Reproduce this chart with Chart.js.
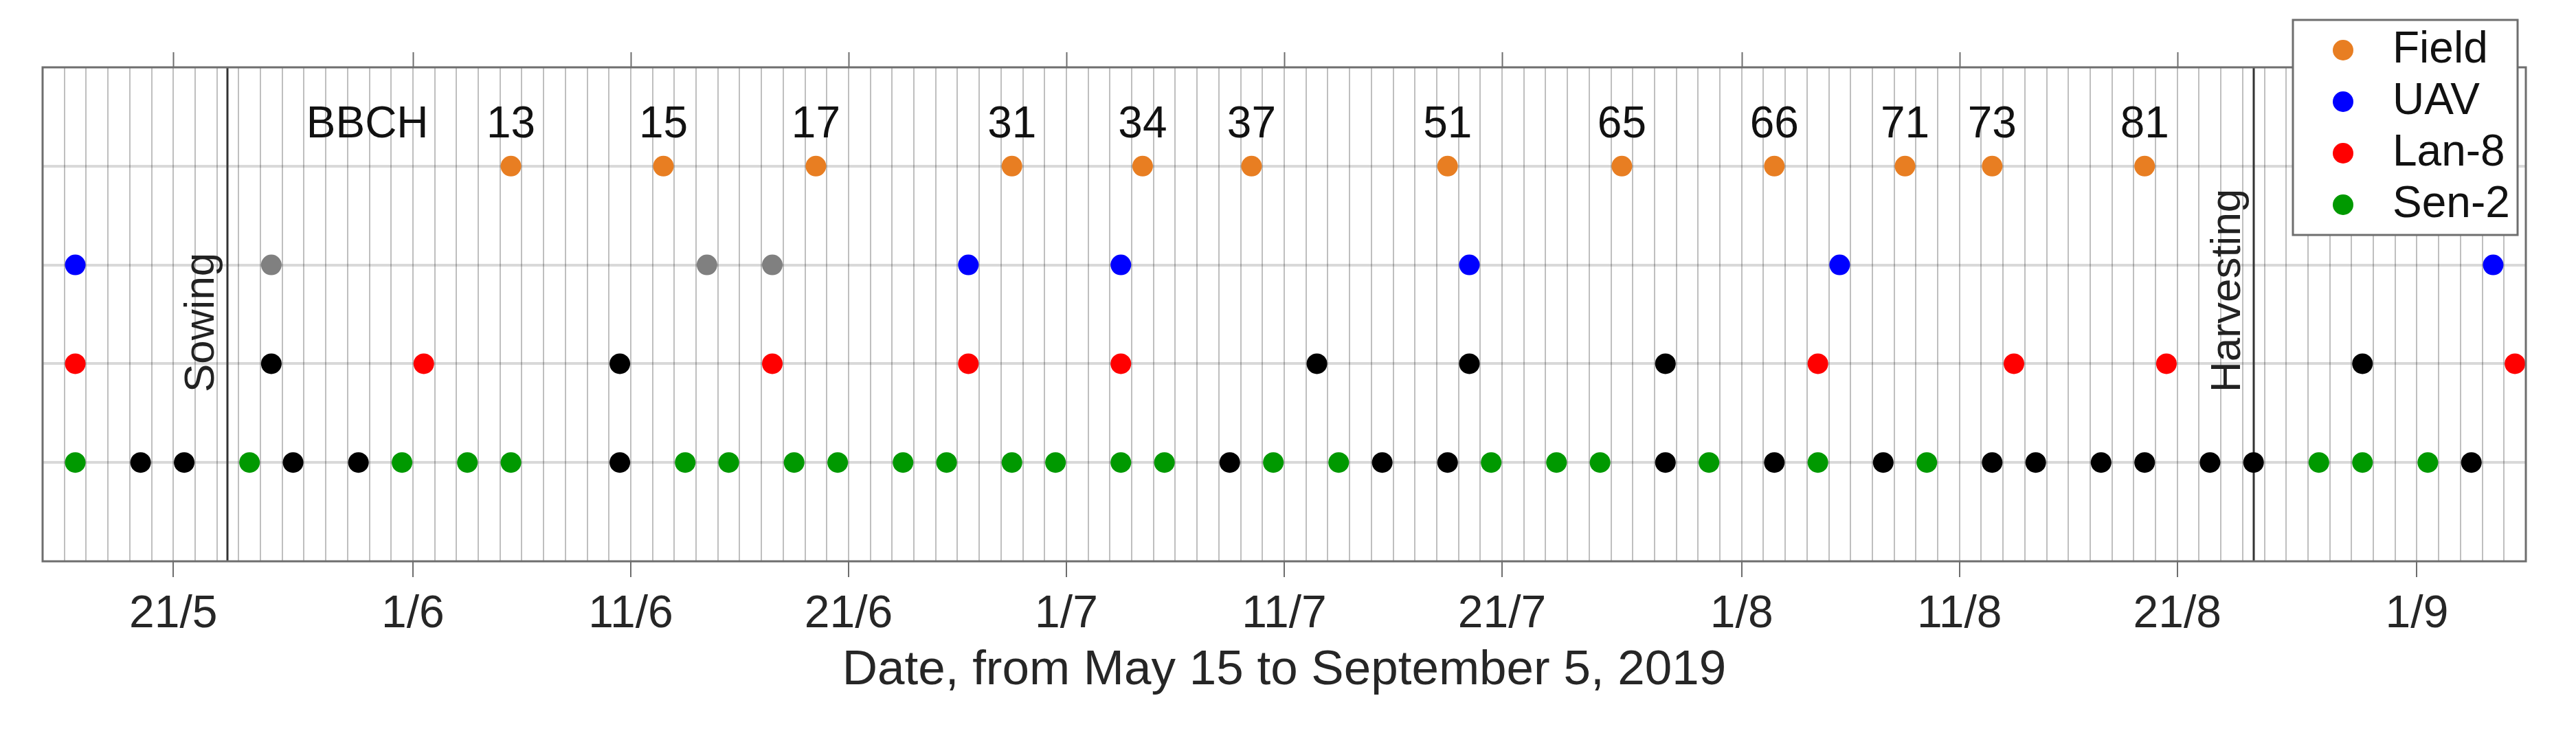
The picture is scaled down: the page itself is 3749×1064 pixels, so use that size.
<!DOCTYPE html>
<html>
<head>
<meta charset="utf-8">
<script src="https://cdn.jsdelivr.net/npm/chart.js"></script>
<style>
  html, body { margin: 0; padding: 0; background: #fff; }
  #wrap { width: 3749px; height: 1064px; }
</style>
</head>
<body>
<div id="wrap"><canvas id="timeline"></canvas></div>
<script>
// season covered by the axis (inclusive)
const startDate = '2019-05-15';
const endDate = '2019-09-05';

// field visits and the BBCH stage noted on each
const fieldDates = ['2019-06-05', '2019-06-12', '2019-06-19', '2019-06-28', '2019-07-04', '2019-07-09',
                    '2019-07-18', '2019-07-26', '2019-08-02', '2019-08-08', '2019-08-12', '2019-08-19'];
const fieldBBCH = ['13', '15', '17', '31', '34', '37', '51', '65', '66', '71', '73', '81'];

// UAV flights (grey = flight not used)
const uavDates = ['2019-05-16', '2019-06-26', '2019-07-03', '2019-07-19', '2019-08-05', '2019-09-04'];
const uavGreyDates = ['2019-05-25', '2019-06-14', '2019-06-17'];

// Landsat-8 passes (black = cloudy)
const lan8Dates = ['2019-05-16', '2019-06-01', '2019-06-17', '2019-06-26', '2019-07-03',
                   '2019-08-04', '2019-08-13', '2019-08-20', '2019-09-05'];
const lan8Cloudy = ['2019-05-25', '2019-06-10', '2019-07-12', '2019-07-19', '2019-07-28', '2019-08-29'];

// Sentinel-2 passes (black = cloudy)
const sen2Dates = ['2019-05-16', '2019-05-24', '2019-05-31', '2019-06-03', '2019-06-05', '2019-06-13',
                   '2019-06-15', '2019-06-18', '2019-06-20', '2019-06-23', '2019-06-25', '2019-06-28',
                   '2019-06-30', '2019-07-03', '2019-07-05', '2019-07-10', '2019-07-13', '2019-07-20',
                   '2019-07-23', '2019-07-25', '2019-07-30', '2019-08-04', '2019-08-09', '2019-08-27',
                   '2019-08-29', '2019-09-01'];
const sen2Cloudy = ['2019-05-19', '2019-05-21', '2019-05-26', '2019-05-29', '2019-06-10', '2019-07-08',
                    '2019-07-15', '2019-07-18', '2019-07-28', '2019-08-02', '2019-08-07', '2019-08-12',
                    '2019-08-14', '2019-08-17', '2019-08-19', '2019-08-22', '2019-08-24', '2019-09-03'];

// labelled axis ticks
const tickDates = ['2019-05-21', '2019-06-01', '2019-06-11', '2019-06-21', '2019-07-01', '2019-07-11',
                   '2019-07-21', '2019-08-01', '2019-08-11', '2019-08-21', '2019-09-01'];
const tickLabels = ['21/5', '1/6', '11/6', '21/6', '1/7', '11/7', '21/7', '1/8', '11/8', '21/8', '1/9'];

// crop events
const eventDates = ['2019-05-23', '2019-08-24'];
const eventLabels = ['Sowing', 'Harvesting'];

const FONT = "'Liberation Sans', Arial, Helvetica, sans-serif";

function dayOf(s) {
  const [y, m, d] = s.split('-').map(Number);
  const [y0, m0, d0] = startDate.split('-').map(Number);
  return (Date.UTC(y, m - 1, d) - Date.UTC(y0, m0 - 1, d0)) / 864e5;
}

// each day is one grid cell, points sit in the middle of it
const toPoints = (dates, row) => dates.map(d => ({ x: dayOf(d) + 0.5, y: row }));

const xMax = dayOf(endDate) + 1;
const majorDays = tickDates.map(dayOf);

function ds(label, dates, row, color, inLegend) {
  return {
    label,
    data: toPoints(dates, row),
    backgroundColor: color,
    pointRadius: 15,
    pointHoverRadius: 15,
    pointBorderWidth: 0,
    inLegend
  };
}

const decorations = {
  id: 'decorations',
  beforeDatasetsDraw(chart) {
    const { ctx, chartArea: a, scales: { x } } = chart;
    ctx.save();
    eventDates.forEach((d, i) => {
      const px = Math.round(x.getPixelForValue(dayOf(d) + 0.5));
      ctx.strokeStyle = '#333';
      ctx.lineWidth = 3;
      ctx.beginPath();
      ctx.moveTo(px, a.top);
      ctx.lineTo(px, a.bottom);
      ctx.stroke();

      ctx.save();
      ctx.translate(px - 20, 571);
      ctx.rotate(-Math.PI / 2);
      ctx.font = '62px ' + FONT;
      ctx.fillStyle = '#222';
      ctx.textAlign = 'left';
      ctx.textBaseline = 'alphabetic';
      ctx.fillText(eventLabels[i], 0, 0);
      ctx.restore();
    });
    ctx.restore();
  },
  afterDatasetsDraw(chart) {
    const { ctx, chartArea: a, scales: { x } } = chart;
    ctx.save();

    // BBCH codes above the field visits
    const pts = chart.getDatasetMeta(0).data;
    ctx.font = '64px ' + FONT;
    ctx.fillStyle = '#111';
    ctx.textBaseline = 'alphabetic';
    ctx.textAlign = 'center';
    pts.forEach((p, i) => ctx.fillText(fieldBBCH[i], p.x, p.y - 42));
    ctx.textAlign = 'right';
    ctx.fillText('BBCH', pts[0].x - 120, pts[0].y - 42);

    // box round the plot and ticks on top
    ctx.strokeStyle = '#6E6E6E';
    ctx.lineWidth = 3;
    ctx.strokeRect(a.left, a.top, a.right - a.left, a.bottom - a.top);
    ctx.lineWidth = 2;
    majorDays.forEach(v => {
      const px = Math.round(x.getPixelForValue(v)) + 0.5;
      ctx.beginPath();
      ctx.moveTo(px, a.top);
      ctx.lineTo(px, a.top - 22);
      ctx.stroke();
    });
    ctx.restore();
  },
  afterDraw(chart) {
    const { ctx, chartArea: a } = chart;
    const items = chart.data.datasets.filter(d => d.inLegend);
    const lx = a.right - 339, ly = 29, lw = 327, lh = 313;
    ctx.save();
    ctx.fillStyle = '#fff';
    ctx.fillRect(lx, ly, lw, lh);
    ctx.strokeStyle = '#6E6E6E';
    ctx.lineWidth = 3;
    ctx.strokeRect(lx, ly, lw, lh);
    ctx.font = '64px ' + FONT;
    ctx.textAlign = 'left';
    ctx.textBaseline = 'middle';
    items.forEach((d, i) => {
      const cy = ly + 44 + i * 75;
      ctx.fillStyle = d.backgroundColor;
      ctx.beginPath();
      ctx.arc(lx + 73, cy, 15, 0, Math.PI * 2);
      ctx.fill();
      ctx.fillStyle = '#111';
      ctx.fillText(d.label, lx + 145, cy);
    });
    ctx.restore();
  }
};

new Chart(document.getElementById('timeline'), {
  type: 'scatter',
  data: {
    datasets: [
      ds('Field', fieldDates, 4, '#E87E22', true),
      ds('UAV', uavDates, 3, '#0000FF', true),
      ds('UAV not used', uavGreyDates, 3, '#808080', false),
      ds('Lan-8', lan8Dates, 2, '#FF0000', true),
      ds('Lan-8 cloudy', lan8Cloudy, 2, '#000000', false),
      ds('Sen-2', sen2Dates, 1, '#009900', true),
      ds('Sen-2 cloudy', sen2Cloudy, 1, '#000000', false)
    ]
  },
  options: {
    responsive: true,
    maintainAspectRatio: false,
    animation: false,
    devicePixelRatio: 1,
    layout: { padding: { top: 98, left: 62, right: 73, bottom: 0 } },
    plugins: {
      legend: { display: false },
      tooltip: { enabled: false }
    },
    scales: {
      x: {
        type: 'linear',
        min: 0,
        max: xMax,
        afterBuildTicks: s => { s.ticks = Array.from({ length: xMax + 1 }, (_, i) => ({ value: i })); },
        afterFit: s => { s.height = 247; },
        border: { display: false },
        grid: {
          color: 'rgba(0,0,0,0.25)',
          lineWidth: 2,
          tickLength: 23,
          tickWidth: 2,
          tickColor: c => majorDays.includes(c.tick.value) ? '#6E6E6E' : 'rgba(0,0,0,0)'
        },
        ticks: {
          autoSkip: false,
          maxRotation: 0,
          minRotation: 0,
          padding: 15,
          color: '#262626',
          font: { family: FONT, size: 66 },
          callback: v => {
            const i = majorDays.indexOf(v);
            return i >= 0 ? tickLabels[i] : '';
          }
        },
        title: {
          display: true,
          text: 'Date, from May 15 to September 5, 2019',
          color: '#262626',
          font: { family: FONT, size: 71, lineHeight: 1 },
          padding: { top: 0, bottom: 52 }
        }
      },
      y: {
        min: 0,
        max: 5,
        afterBuildTicks: s => { s.ticks = [0, 1, 2, 3, 4, 5].map(v => ({ value: v })); },
        afterFit: s => { s.width = 0; },
        border: { display: false },
        grid: {
          drawTicks: false,
          lineWidth: 4,
          color: c => (c.tick.value >= 1 && c.tick.value <= 4) ? 'rgba(0,0,0,0.15)' : 'rgba(0,0,0,0)'
        },
        ticks: { display: false }
      }
    }
  },
  plugins: [decorations]
});
</script>
</body>
</html>
